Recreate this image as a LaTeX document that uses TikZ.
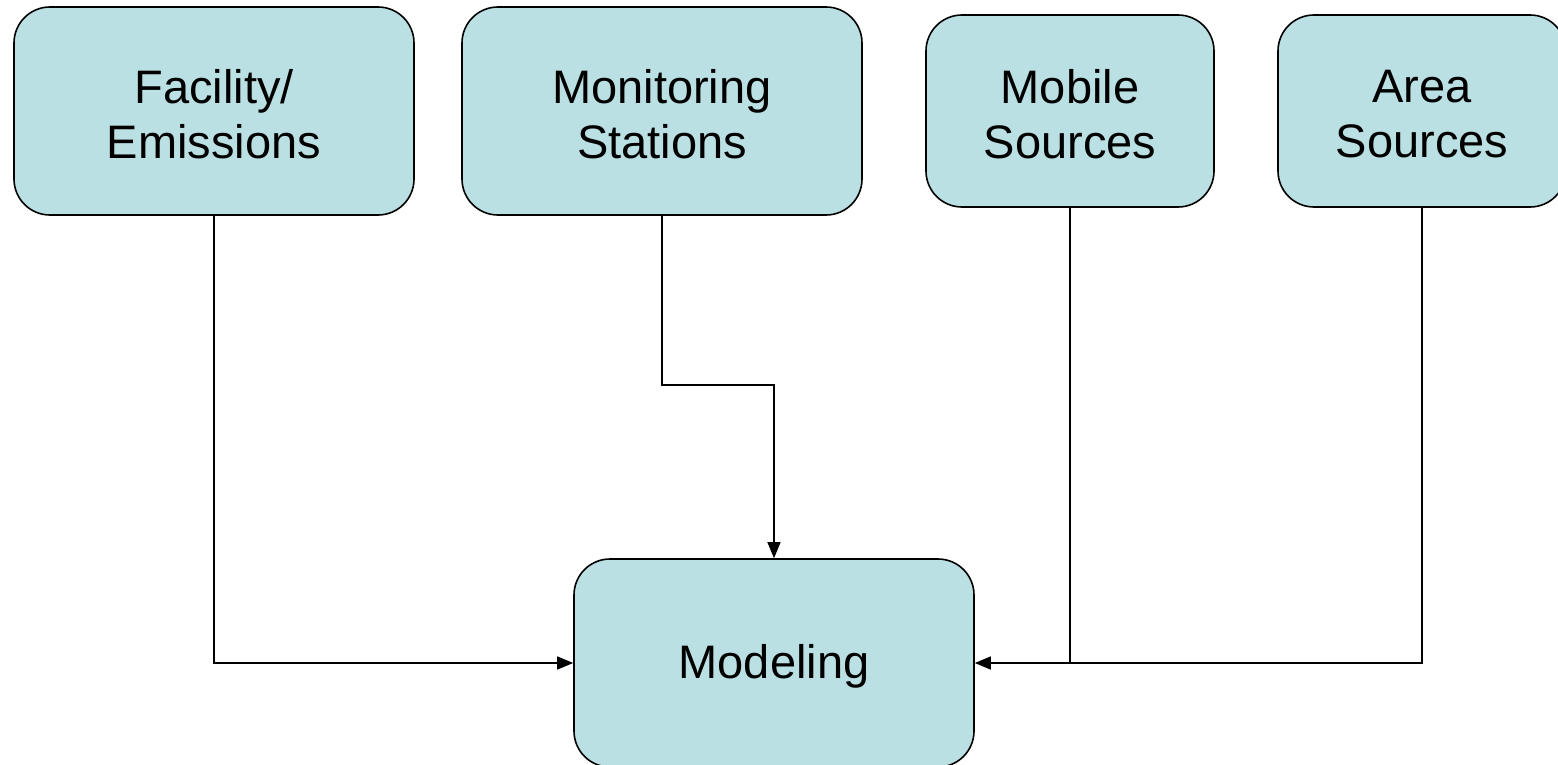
\documentclass[tikz,border=0pt]{standalone}
\usepackage{fontspec}
\setmainfont{Liberation Sans}
\usetikzlibrary{arrows.meta}
\definecolor{boxfill}{HTML}{BBE0E3}
\tikzset{
  box/.style={draw=black, line width=1.6pt, fill=boxfill, rounded corners=36pt, inner sep=0pt},
  wide/.style={box, minimum width=400pt, minimum height=208pt},
  narrow/.style={box, minimum width=288pt, minimum height=192pt},
  txt/.style={align=center, inner sep=0pt, font=\fontsize{47}{55}\selectfont},
  conn/.style={line width=1.3pt},
  arr/.style={conn, -{Triangle[length=16pt,width=13pt]}}
}
\begin{document}
\begin{tikzpicture}[x=1pt,y=-1pt]
\useasboundingbox (0,0) rectangle (1558,765);
\node[wide] (fac) at (214,111) {};
\node[wide] (mon) at (662,111) {};
\node[narrow] (mob) at (1070,111) {};
\node[narrow] (area) at (1422,111) {};
\node[wide] (mod) at (774,663) {};
\node[txt] (facT) at ([yshift=-3pt]fac.center) {Facility/\\Emissions};
\node[txt] (monT) at ([yshift=-3pt]mon.center) {Monitoring\\Stations};
\node[txt] (mobT) at ([yshift=-3pt]mob.center) {Mobile\\Sources};
\node[txt] (areaT) at ([yshift=-3pt]area.center) {Area\\Sources};
\node[txt] (modT) at ([yshift=-3pt]mod.center) {Modeling};
\coordinate (mturn) at (774,385);
\coordinate (join) at (1070,663);
\draw[arr] (fac.south) |- (mod.west);
\draw[arr] (mon.south) |- (mturn) -- (mod.north);
\draw[arr] (mob.south) |- (mod.east);
\draw[conn] (area.south) |- (join);
\end{tikzpicture}
\end{document}
